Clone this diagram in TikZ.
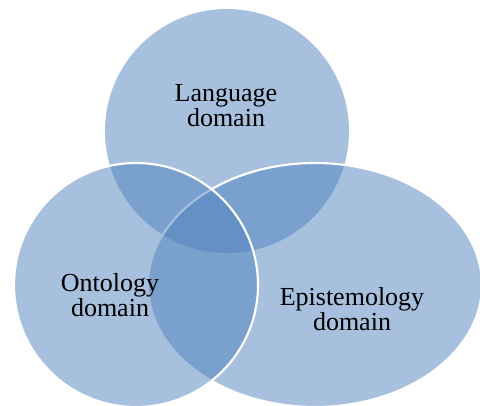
\documentclass[tikz,border=0pt]{standalone}
\usepackage{fontspec}
\setmainfont{Liberation Serif}
\usepackage{xcolor}
\usetikzlibrary{shapes,positioning}

\definecolor{setblue}{HTML}{4F81BD}

\begin{document}
\begin{tikzpicture}[
    x=0.75pt, y=-0.75pt,
    set/.style={circle, fill=setblue, fill opacity=0.5, inner sep=0pt, outer sep=0pt, minimum size=183pt},
    oval/.style={ellipse, fill=setblue, fill opacity=0.5, inner sep=0pt, outer sep=0pt, minimum width=250.5pt, minimum height=183pt},
    rim/.style={draw=white, line width=1.6pt},
    label/.style={align=center, font=\fontsize{19.5}{18.8}\selectfont, text=black}
]
\useasboundingbox (0,0) rectangle (480,406);

% the three domains
\node[set] (language) at (227,131) {};
\node[oval, rim] (episteme) at (315,285) {};
\node[set, rim] (ontology) at (136,285) {};

% texts
\node[label] (langtext) at (226,106) {Language\\domain};
\node[label] (ontotext) at (110,295) {Ontology\\domain};
\node[label] (epistext) at (352,309) {Epistemology\\domain};

\end{tikzpicture}
\end{document}
